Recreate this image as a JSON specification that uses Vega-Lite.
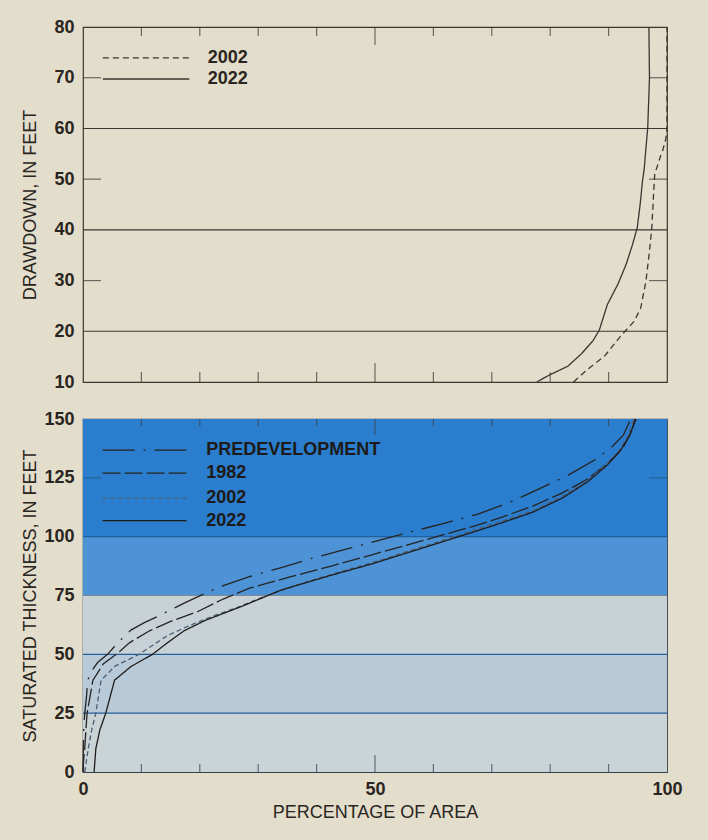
{
  "$schema": "https://vega.github.io/schema/vega-lite/v6.json",
  "background": "#e3ddcc",
  "padding": {"left": 20, "top": 17, "right": 28, "bottom": 18},
  "config": {
    "font": "Liberation Sans",
    "view": {"stroke": "#3b3630", "strokeWidth": 1.2},
    "axis": {
      "labelFont": "Liberation Sans", "labelFontSize": 18, "labelFontWeight": "bold", "labelColor": "#2a2520",
      "titleFont": "Liberation Sans", "titleFontSize": 18, "titleFontWeight": "normal", "titleColor": "#2a2520"
    }
  },
  "datasets": {
    "dd": [
      {"series": "2002", "pct": 84.0, "drawdown": 10},
      {"series": "2002", "pct": 86.4, "drawdown": 12.5},
      {"series": "2002", "pct": 89.3, "drawdown": 15.1},
      {"series": "2002", "pct": 92.1, "drawdown": 19.1},
      {"series": "2002", "pct": 94.4, "drawdown": 22.0},
      {"series": "2002", "pct": 95.5, "drawdown": 24.6},
      {"series": "2002", "pct": 96.4, "drawdown": 29.9},
      {"series": "2002", "pct": 97.0, "drawdown": 35.8},
      {"series": "2002", "pct": 97.4, "drawdown": 40.4},
      {"series": "2002", "pct": 97.7, "drawdown": 47.0},
      {"series": "2002", "pct": 97.9, "drawdown": 51.0},
      {"series": "2002", "pct": 99.0, "drawdown": 54.9},
      {"series": "2002", "pct": 99.3, "drawdown": 55.8},
      {"series": "2002", "pct": 99.8, "drawdown": 58},
      {"series": "2002", "pct": 100, "drawdown": 60},
      {"series": "2002", "pct": 100, "drawdown": 80},
      {"series": "2022", "pct": 77.7, "drawdown": 10},
      {"series": "2022", "pct": 79.9, "drawdown": 11.4},
      {"series": "2022", "pct": 83.0, "drawdown": 13.1},
      {"series": "2022", "pct": 85.3, "drawdown": 15.5},
      {"series": "2022", "pct": 87.3, "drawdown": 18.1},
      {"series": "2022", "pct": 88.4, "drawdown": 20.2},
      {"series": "2022", "pct": 89.8, "drawdown": 25.3},
      {"series": "2022", "pct": 91.6, "drawdown": 29.3},
      {"series": "2022", "pct": 93.0, "drawdown": 33.2},
      {"series": "2022", "pct": 94.1, "drawdown": 37.1},
      {"series": "2022", "pct": 94.9, "drawdown": 40.4},
      {"series": "2022", "pct": 95.4, "drawdown": 45.0},
      {"series": "2022", "pct": 95.8, "drawdown": 49.6},
      {"series": "2022", "pct": 96.1, "drawdown": 52},
      {"series": "2022", "pct": 96.4, "drawdown": 56.2},
      {"series": "2022", "pct": 96.7, "drawdown": 60.1},
      {"series": "2022", "pct": 97.0, "drawdown": 70},
      {"series": "2022", "pct": 96.9, "drawdown": 80}
    ],
    "st": [
      {"series": "PREDEVELOPMENT", "pct": 0, "thickness": 0},
      {"series": "PREDEVELOPMENT", "pct": 0.05, "thickness": 10},
      {"series": "PREDEVELOPMENT", "pct": 0.15, "thickness": 20},
      {"series": "PREDEVELOPMENT", "pct": 0.3, "thickness": 25},
      {"series": "PREDEVELOPMENT", "pct": 0.6, "thickness": 32},
      {"series": "PREDEVELOPMENT", "pct": 0.8, "thickness": 39},
      {"series": "PREDEVELOPMENT", "pct": 1.5, "thickness": 43},
      {"series": "PREDEVELOPMENT", "pct": 2.5, "thickness": 46.5},
      {"series": "PREDEVELOPMENT", "pct": 4.2, "thickness": 50},
      {"series": "PREDEVELOPMENT", "pct": 6.0, "thickness": 55},
      {"series": "PREDEVELOPMENT", "pct": 8.2, "thickness": 60.3},
      {"series": "PREDEVELOPMENT", "pct": 10.5, "thickness": 63.5},
      {"series": "PREDEVELOPMENT", "pct": 12.7, "thickness": 66},
      {"series": "PREDEVELOPMENT", "pct": 17.5, "thickness": 72},
      {"series": "PREDEVELOPMENT", "pct": 23.2, "thickness": 78.5},
      {"series": "PREDEVELOPMENT", "pct": 28.5, "thickness": 83},
      {"series": "PREDEVELOPMENT", "pct": 34.1, "thickness": 87},
      {"series": "PREDEVELOPMENT", "pct": 39.5, "thickness": 91},
      {"series": "PREDEVELOPMENT", "pct": 44.9, "thickness": 94.6},
      {"series": "PREDEVELOPMENT", "pct": 50.5, "thickness": 98.3},
      {"series": "PREDEVELOPMENT", "pct": 56.2, "thickness": 102.1},
      {"series": "PREDEVELOPMENT", "pct": 62.0, "thickness": 105.8},
      {"series": "PREDEVELOPMENT", "pct": 67.5, "thickness": 109.5},
      {"series": "PREDEVELOPMENT", "pct": 73.0, "thickness": 114.5},
      {"series": "PREDEVELOPMENT", "pct": 77.9, "thickness": 120.1},
      {"series": "PREDEVELOPMENT", "pct": 83.0, "thickness": 126},
      {"series": "PREDEVELOPMENT", "pct": 87.6, "thickness": 132.6},
      {"series": "PREDEVELOPMENT", "pct": 90.5, "thickness": 138},
      {"series": "PREDEVELOPMENT", "pct": 92.5, "thickness": 143},
      {"series": "PREDEVELOPMENT", "pct": 93.8, "thickness": 150},
      {"series": "1982", "pct": 0, "thickness": 0},
      {"series": "1982", "pct": 0.1, "thickness": 5},
      {"series": "1982", "pct": 0.3, "thickness": 10},
      {"series": "1982", "pct": 0.5, "thickness": 18},
      {"series": "1982", "pct": 0.7, "thickness": 25},
      {"series": "1982", "pct": 1.2, "thickness": 32},
      {"series": "1982", "pct": 1.7, "thickness": 39},
      {"series": "1982", "pct": 3.5, "thickness": 46},
      {"series": "1982", "pct": 5.7, "thickness": 50},
      {"series": "1982", "pct": 8.0, "thickness": 55},
      {"series": "1982", "pct": 11.4, "thickness": 60},
      {"series": "1982", "pct": 15.0, "thickness": 64},
      {"series": "1982", "pct": 19.6, "thickness": 68.1},
      {"series": "1982", "pct": 24.0, "thickness": 73.5},
      {"series": "1982", "pct": 28.5, "thickness": 78.1},
      {"series": "1982", "pct": 35.6, "thickness": 83},
      {"series": "1982", "pct": 42.5, "thickness": 87.5},
      {"series": "1982", "pct": 49.3, "thickness": 92.2},
      {"series": "1982", "pct": 55.6, "thickness": 96.5},
      {"series": "1982", "pct": 61.0, "thickness": 100.3},
      {"series": "1982", "pct": 67.0, "thickness": 104.5},
      {"series": "1982", "pct": 72.0, "thickness": 108.5},
      {"series": "1982", "pct": 77.0, "thickness": 113},
      {"series": "1982", "pct": 82.0, "thickness": 118.5},
      {"series": "1982", "pct": 86.4, "thickness": 124.5},
      {"series": "1982", "pct": 90.0, "thickness": 131.5},
      {"series": "1982", "pct": 92.5, "thickness": 138},
      {"series": "1982", "pct": 94.0, "thickness": 145},
      {"series": "1982", "pct": 94.5, "thickness": 150},
      {"series": "2002", "pct": 0.3, "thickness": 0},
      {"series": "2002", "pct": 0.9, "thickness": 10},
      {"series": "2002", "pct": 1.5, "thickness": 18},
      {"series": "2002", "pct": 2.2, "thickness": 25},
      {"series": "2002", "pct": 3.1, "thickness": 39},
      {"series": "2002", "pct": 5.5, "thickness": 45},
      {"series": "2002", "pct": 9.6, "thickness": 50},
      {"series": "2002", "pct": 12.0, "thickness": 54},
      {"series": "2002", "pct": 14.5, "thickness": 58},
      {"series": "2002", "pct": 18.0, "thickness": 62},
      {"series": "2002", "pct": 22.0, "thickness": 66},
      {"series": "2002", "pct": 27.0, "thickness": 70.5},
      {"series": "2002", "pct": 31.0, "thickness": 74.5},
      {"series": "2002", "pct": 36.0, "thickness": 79},
      {"series": "2002", "pct": 42.5, "thickness": 84},
      {"series": "2002", "pct": 49.3, "thickness": 88.8},
      {"series": "2002", "pct": 55.6, "thickness": 93.8},
      {"series": "2002", "pct": 61.0, "thickness": 98},
      {"series": "2002", "pct": 66.0, "thickness": 102},
      {"series": "2002", "pct": 71.0, "thickness": 106},
      {"series": "2002", "pct": 77.0, "thickness": 111},
      {"series": "2002", "pct": 82.0, "thickness": 117},
      {"series": "2002", "pct": 86.4, "thickness": 124},
      {"series": "2002", "pct": 89.5, "thickness": 130.5},
      {"series": "2002", "pct": 91.8, "thickness": 136.5},
      {"series": "2002", "pct": 93.3, "thickness": 142.5},
      {"series": "2002", "pct": 94.3, "thickness": 150},
      {"series": "2022", "pct": 1.9, "thickness": 0},
      {"series": "2022", "pct": 2.2, "thickness": 10},
      {"series": "2022", "pct": 2.9, "thickness": 18},
      {"series": "2022", "pct": 3.9, "thickness": 25},
      {"series": "2022", "pct": 5.4, "thickness": 39},
      {"series": "2022", "pct": 8.2, "thickness": 44.8},
      {"series": "2022", "pct": 11.9, "thickness": 50},
      {"series": "2022", "pct": 14.5, "thickness": 55},
      {"series": "2022", "pct": 17.3, "thickness": 60},
      {"series": "2022", "pct": 21.0, "thickness": 64.5},
      {"series": "2022", "pct": 27.1, "thickness": 70.3},
      {"series": "2022", "pct": 33.9, "thickness": 77.3},
      {"series": "2022", "pct": 42.5, "thickness": 83.6},
      {"series": "2022", "pct": 49.3, "thickness": 88.3},
      {"series": "2022", "pct": 55.6, "thickness": 93.2},
      {"series": "2022", "pct": 61.0, "thickness": 97.4},
      {"series": "2022", "pct": 66.0, "thickness": 101.3},
      {"series": "2022", "pct": 71.0, "thickness": 105.3},
      {"series": "2022", "pct": 77.0, "thickness": 110.4},
      {"series": "2022", "pct": 82.0, "thickness": 116.3},
      {"series": "2022", "pct": 86.4, "thickness": 123.3},
      {"series": "2022", "pct": 89.8, "thickness": 130.5},
      {"series": "2022", "pct": 92.0, "thickness": 136.5},
      {"series": "2022", "pct": 93.5, "thickness": 142.5},
      {"series": "2022", "pct": 94.7, "thickness": 150}
    ],
    "minorX": [{"pct": 10}, {"pct": 20}, {"pct": 30}, {"pct": 40}, {"pct": 60}, {"pct": 70}, {"pct": 80}, {"pct": 90}],
    "majorX": [{"pct": 50}]
  },
  "spacing": 17,
  "resolve": {"scale": {"x": "independent", "y": "independent", "stroke": "independent", "fill": "independent", "strokeDash": "independent"}},
  "vconcat": [
    {
      "width": 584,
      "height": 355,
      "encoding": {
        "y": {"type": "quantitative", "scale": {"domain": [10, 80], "nice": false},
              "axis": {"title": "DRAWDOWN, IN FEET", "values": [10, 20, 30, 40, 50, 60, 70, 80], "ticks": false, "domain": false, "grid": false, "labelFlush": false, "labelPadding": 9, "minExtent": 30, "maxExtent": 30, "titlePadding": 14}},
        "x": {"type": "quantitative", "scale": {"domain": [0, 100], "nice": false}, "axis": null}
      },
      "layer": [
        {
          "data": {"values": [{"drawdown": 20}, {"drawdown": 40}, {"drawdown": 60}]},
          "mark": {"type": "rule", "color": "#3b3630", "strokeWidth": 1.1},
          "encoding": {"y": {"field": "drawdown"}}
        },
        {
          "data": {"name": "dd"},
          "mark": {"type": "line", "strokeWidth": 1.3},
          "encoding": {
            "x": {"field": "pct"},
            "y": {"field": "drawdown"},
            "order": {"field": "drawdown", "type": "quantitative"},
            "strokeDash": {"field": "series", "type": "nominal", "scale": {"domain": ["2002", "2022"], "range": [[6, 4], [1, 0]]}, "legend": null},
            "stroke": {"field": "series", "type": "nominal", "scale": {"domain": ["2002", "2022"], "range": ["#3b3630", "#3b3630"]}, "legend": null}
          }
        },
        {
          "data": {"name": "minorX"},
          "mark": {"type": "tick", "orient": "vertical", "size": 9, "thickness": 1.2, "yOffset": 4.5, "color": "#3b3630"},
          "encoding": {"x": {"field": "pct"}, "y": {"datum": 80}}
        },
        {
          "data": {"name": "majorX"},
          "mark": {"type": "tick", "orient": "vertical", "size": 18, "thickness": 1.2, "yOffset": 9, "color": "#3b3630"},
          "encoding": {"x": {"field": "pct"}, "y": {"datum": 80}}
        },
        {
          "data": {"name": "minorX"},
          "mark": {"type": "tick", "orient": "vertical", "size": 10, "thickness": 1.2, "yOffset": -5, "color": "#3b3630"},
          "encoding": {"x": {"field": "pct"}, "y": {"datum": 10}}
        },
        {
          "data": {"name": "majorX"},
          "mark": {"type": "tick", "orient": "vertical", "size": 19, "thickness": 1.2, "yOffset": -9.5, "color": "#3b3630"},
          "encoding": {"x": {"field": "pct"}, "y": {"datum": 10}}
        },
        {
          "data": {"values": [{"drawdown": 30}, {"drawdown": 50}, {"drawdown": 70}]},
          "mark": {"type": "tick", "orient": "horizontal", "size": 18, "thickness": 1.2, "xOffset": 9, "color": "#3b3630"},
          "encoding": {"y": {"field": "drawdown"}, "x": {"datum": 0}}
        },
        {
          "data": {"values": [{"drawdown": 30}, {"drawdown": 50}, {"drawdown": 70}]},
          "mark": {"type": "tick", "orient": "horizontal", "size": 18, "thickness": 1.2, "xOffset": -9, "color": "#3b3630"},
          "encoding": {"y": {"field": "drawdown"}, "x": {"datum": 100}}
        },
        {
          "data": {"values": [{"series": "2002"}]},
          "mark": {"type": "rule", "strokeWidth": 1.3},
          "encoding": {
            "x": {"datum": 3.4}, "x2": {"datum": 18.2},
            "y": {"datum": 73.9},
            "strokeDash": {"field": "series", "type": "nominal", "legend": null},
            "stroke": {"field": "series", "type": "nominal", "legend": null}
          }
        },
        {
          "data": {"values": [{"series": "2002"}]},
          "mark": {"type": "text", "align": "left", "baseline": "middle", "fontSize": 18, "fontWeight": "bold", "color": "#2a2520"},
          "encoding": {"x": {"datum": 21.35}, "y": {"datum": 73.9}, "text": {"field": "series"}}
        },
        {
          "data": {"values": [{"series": "2022"}]},
          "mark": {"type": "rule", "strokeWidth": 1.3},
          "encoding": {
            "x": {"datum": 3.4}, "x2": {"datum": 18.2},
            "y": {"datum": 69.75},
            "strokeDash": {"field": "series", "type": "nominal", "legend": null},
            "stroke": {"field": "series", "type": "nominal", "legend": null}
          }
        },
        {
          "data": {"values": [{"series": "2022"}]},
          "mark": {"type": "text", "align": "left", "baseline": "middle", "fontSize": 18, "fontWeight": "bold", "color": "#2a2520"},
          "encoding": {"x": {"datum": 21.35}, "y": {"datum": 69.75}, "text": {"field": "series"}}
        }
      ]
    },
    {
      "width": 584,
      "height": 353,
      "view": {"stroke": "#34424f"},
      "encoding": {
        "x": {"type": "quantitative", "scale": {"domain": [0, 100], "nice": false},
              "axis": {"title": "PERCENTAGE OF AREA", "values": [0, 50, 100], "ticks": false, "domain": false, "grid": false, "labelFlush": false, "labelPadding": 8, "titlePadding": 5}},
        "y": {"type": "quantitative", "scale": {"domain": [0, 150], "nice": false},
              "axis": {"title": "SATURATED THICKNESS, IN FEET", "values": [0, 25, 50, 75, 100, 125, 150], "ticks": false, "domain": false, "grid": false, "labelFlush": false, "labelPadding": 9, "minExtent": 30, "maxExtent": 30, "titlePadding": 14}}
      },
      "layer": [
        {
          "data": {"values": [
            {"band": "100-150", "lo": 100, "hi": 150},
            {"band": "75-100", "lo": 75, "hi": 100},
            {"band": "50-75", "lo": 50, "hi": 75},
            {"band": "25-50", "lo": 25, "hi": 50},
            {"band": "0-25", "lo": 0, "hi": 25}
          ]},
          "mark": {"type": "rect"},
          "encoding": {
            "x": {"datum": 0}, "x2": {"datum": 100},
            "y": {"field": "lo"}, "y2": {"field": "hi"},
            "fill": {"field": "band", "type": "nominal", "scale": {"domain": ["100-150", "75-100", "50-75", "25-50", "0-25"], "range": ["#2b7dcd", "#4d93d6", "#c8d2d6", "#b8c9d8", "#cad3d6"]}, "legend": null}
          }
        },
        {
          "data": {"values": [{"thickness": 25}, {"thickness": 50}, {"thickness": 100}]},
          "mark": {"type": "rule", "strokeWidth": 1.1, "color": "#22609c"},
          "encoding": {"y": {"field": "thickness"}}
        },
        {
          "data": {"values": [{"thickness": 75}]},
          "mark": {"type": "rule", "strokeWidth": 1.1, "color": "#7d8790"},
          "encoding": {"y": {"field": "thickness"}}
        },
        {
          "data": {"name": "st"},
          "mark": {"type": "line", "strokeWidth": 1.3},
          "encoding": {
            "x": {"field": "pct"},
            "y": {"field": "thickness"},
            "order": {"field": "thickness", "type": "quantitative"},
            "strokeDash": {"field": "series", "type": "nominal", "scale": {"domain": ["PREDEVELOPMENT", "1982", "2002", "2022"], "range": [[32, 9, 2, 9], [18, 4], [5, 3], [1, 0]]}, "legend": null},
            "stroke": {"field": "series", "type": "nominal", "scale": {"domain": ["PREDEVELOPMENT", "1982", "2002", "2022"], "range": ["#262422", "#262422", "#4a5f78", "#1f1d1b"]}, "legend": null}
          }
        },
        {
          "data": {"name": "minorX"},
          "mark": {"type": "tick", "orient": "vertical", "size": 7, "thickness": 1.2, "yOffset": 3.5, "color": "#34424f"},
          "encoding": {"x": {"field": "pct"}, "y": {"datum": 150}}
        },
        {
          "data": {"name": "majorX"},
          "mark": {"type": "tick", "orient": "vertical", "size": 16, "thickness": 1.2, "yOffset": 8, "color": "#34424f"},
          "encoding": {"x": {"field": "pct"}, "y": {"datum": 150}}
        },
        {
          "data": {"name": "minorX"},
          "mark": {"type": "tick", "orient": "vertical", "size": 8, "thickness": 1.2, "yOffset": -4, "color": "#34424f"},
          "encoding": {"x": {"field": "pct"}, "y": {"datum": 0}}
        },
        {
          "data": {"name": "majorX"},
          "mark": {"type": "tick", "orient": "vertical", "size": 17, "thickness": 1.2, "yOffset": -8.5, "color": "#34424f"},
          "encoding": {"x": {"field": "pct"}, "y": {"datum": 0}}
        },
        {
          "data": {"values": [{"thickness": 125}]},
          "mark": {"type": "tick", "orient": "horizontal", "size": 18, "thickness": 1.2, "xOffset": 9, "color": "#1f5a80"},
          "encoding": {"y": {"field": "thickness"}, "x": {"datum": 0}}
        },
        {
          "data": {"values": [{"thickness": 125}]},
          "mark": {"type": "tick", "orient": "horizontal", "size": 18, "thickness": 1.2, "xOffset": -9, "color": "#1f5a80"},
          "encoding": {"y": {"field": "thickness"}, "x": {"datum": 100}}
        },
        {
          "data": {"values": [{"series": "PREDEVELOPMENT"}]},
          "mark": {"type": "rule", "strokeWidth": 1.3},
          "encoding": {
            "x": {"datum": 3.35}, "x2": {"datum": 17.7},
            "y": {"datum": 136.8},
            "strokeDash": {"field": "series", "type": "nominal", "legend": null},
            "stroke": {"field": "series", "type": "nominal", "legend": null}
          }
        },
        {
          "data": {"values": [{"series": "PREDEVELOPMENT"}]},
          "mark": {"type": "text", "align": "left", "baseline": "middle", "fontSize": 18, "fontWeight": "bold", "color": "#1d1a17"},
          "encoding": {"x": {"datum": 21.1}, "y": {"datum": 136.8}, "text": {"field": "series"}}
        },
        {
          "data": {"values": [{"series": "1982"}]},
          "mark": {"type": "rule", "strokeWidth": 1.3},
          "encoding": {
            "x": {"datum": 3.35}, "x2": {"datum": 17.7},
            "y": {"datum": 127.0},
            "strokeDash": {"field": "series", "type": "nominal", "legend": null},
            "stroke": {"field": "series", "type": "nominal", "legend": null}
          }
        },
        {
          "data": {"values": [{"series": "1982"}]},
          "mark": {"type": "text", "align": "left", "baseline": "middle", "fontSize": 18, "fontWeight": "bold", "color": "#1d1a17"},
          "encoding": {"x": {"datum": 21.1}, "y": {"datum": 127.0}, "text": {"field": "series"}}
        },
        {
          "data": {"values": [{"series": "2002"}]},
          "mark": {"type": "rule", "strokeWidth": 1.3},
          "encoding": {
            "x": {"datum": 3.35}, "x2": {"datum": 17.7},
            "y": {"datum": 116.3},
            "strokeDash": {"field": "series", "type": "nominal", "legend": null},
            "stroke": {"field": "series", "type": "nominal", "legend": null}
          }
        },
        {
          "data": {"values": [{"series": "2002"}]},
          "mark": {"type": "text", "align": "left", "baseline": "middle", "fontSize": 18, "fontWeight": "bold", "color": "#1d1a17"},
          "encoding": {"x": {"datum": 21.1}, "y": {"datum": 116.3}, "text": {"field": "series"}}
        },
        {
          "data": {"values": [{"series": "2022"}]},
          "mark": {"type": "rule", "strokeWidth": 1.3},
          "encoding": {
            "x": {"datum": 3.35}, "x2": {"datum": 17.7},
            "y": {"datum": 106.8},
            "strokeDash": {"field": "series", "type": "nominal", "legend": null},
            "stroke": {"field": "series", "type": "nominal", "legend": null}
          }
        },
        {
          "data": {"values": [{"series": "2022"}]},
          "mark": {"type": "text", "align": "left", "baseline": "middle", "fontSize": 18, "fontWeight": "bold", "color": "#1d1a17"},
          "encoding": {"x": {"datum": 21.1}, "y": {"datum": 106.8}, "text": {"field": "series"}}
        }
      ]
    }
  ]
}
